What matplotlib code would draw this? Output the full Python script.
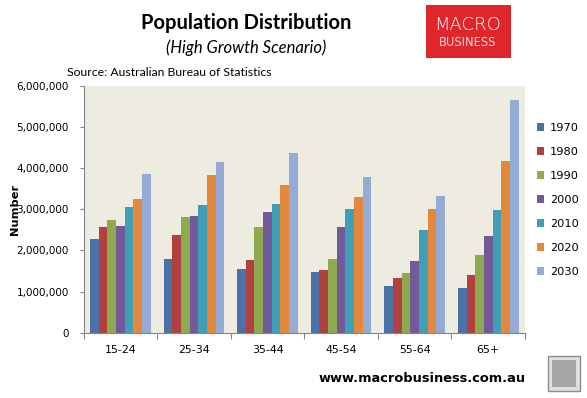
import numpy as np
import matplotlib
matplotlib.use('Agg')
import matplotlib.pyplot as plt
from matplotlib.patches import Rectangle
from matplotlib.ticker import FuncFormatter

# data (people)
age_groups = ['15-24', '25-34', '35-44', '45-54', '55-64', '65+']
years = ['1970', '1980', '1990', '2000', '2010', '2020', '2030']
pop_1970 = [2270000, 1790000, 1540000, 1470000, 1130000, 1080000]
pop_1980 = [2570000, 2370000, 1760000, 1520000, 1320000, 1400000]
pop_1990 = [2740000, 2810000, 2560000, 1790000, 1440000, 1880000]
pop_2000 = [2590000, 2830000, 2930000, 2560000, 1740000, 2350000]
pop_2010 = [3050000, 3100000, 3120000, 3000000, 2490000, 2980000]
pop_2020 = [3250000, 3830000, 3590000, 3300000, 3000000, 4170000]
pop_2030 = [3850000, 4150000, 4370000, 3780000, 3320000, 5660000]
series = [pop_1970, pop_1980, pop_1990, pop_2000, pop_2010, pop_2020, pop_2030]

colors = ['#4a72a8', '#b0413e', '#8daa4e', '#73599a', '#3f9fb7', '#e4883d', '#94abd6']

W, H = 587, 398
fig = plt.figure(figsize=(W/100, H/100), dpi=100)
fig.patch.set_facecolor('white')

ax = fig.add_axes([83.5/W, 1 - 332.7/H, 441.5/W, 246.7/H])
ax.set_facecolor('#eeece1')

n = len(years)
bw = 1.0 / (n + 1.5)
x = np.arange(len(age_groups))
for i, (yr, vals) in enumerate(zip(years, series)):
    ax.bar(x - (n - 1) / 2 * bw + i * bw, vals, width=bw, color=colors[i],
           label=yr, linewidth=0)

ax.set_xlim(-0.5, len(age_groups) - 0.5)
ax.set_ylim(0, 6000000)
ax.set_yticks(np.arange(0, 6000001, 1000000))
ax.yaxis.set_major_formatter(FuncFormatter(lambda v, p: f'{int(v):,}'))
ax.set_xticks(np.arange(-0.5, len(age_groups), 1.0))
ax.set_xticklabels([])
ax.set_xticks(x, minor=True)
ax.set_xticklabels(age_groups, minor=True)
ax.tick_params(axis='x', which='minor', length=0, pad=9, labelsize=7.9)
ax.tick_params(axis='x', which='major', length=4, color='#868686')
ax.tick_params(axis='y', length=3, color='#868686', labelsize=7.5, pad=7.5)
for s in ['top', 'right']:
    ax.spines[s].set_visible(False)
for s in ['left', 'bottom']:
    ax.spines[s].set_color('#868686')

ax.set_ylabel('Number', fontsize=8.2, fontweight='bold')
ax.yaxis.set_label_coords((20 - 83.5) / 441.5, 0.5)

leg = ax.legend(loc='upper left', bbox_to_anchor=(537/W, 1 - 123/H),
                bbox_transform=fig.transFigure, frameon=False, fontsize=8.2,
                handlelength=0.65, handleheight=0.65, handletextpad=0.5,
                labelspacing=1.23, borderpad=0, borderaxespad=0)

# titles
fig.text(246/W, 1 - 23/H, 'Population Distribution', ha='center', va='center',
         fontsize=14.5, fontweight='bold', family='Lato')
fig.text(246/W, 1 - 48/H, '(High Growth Scenario)', ha='center', va='center',
         fontsize=12, style='italic', family='Lato')
fig.text(67/W, 1 - 73/H, 'Source: Australian Bureau of Statistics', ha='left',
         va='center', fontsize=8.8, family='Lato')

# logo box
fig.patches.append(Rectangle((426/W, 1 - 58/H), 85/W, 53/H, transform=fig.transFigure,
                             facecolor='#e0262b', edgecolor='none'))
fig.text(468/W, 1 - 25/H, 'MACRO', ha='center', va='center', color='white',
         fontsize=13, family='DejaVu Sans', fontweight='light')
fig.text(468/W, 1 - 42/H, 'BUSINESS', ha='center', va='center', color='#f6d6d6',
         fontsize=8.3, family='DejaVu Sans')

# footer
fig.text(422/W, 1 - 379/H, 'www.macrobusiness.com.au', ha='center', va='center',
         fontsize=9.4, fontweight='bold')
fig.patches.append(Rectangle((548/W, 1 - 391/H), 32/W, 35/H, transform=fig.transFigure,
                             facecolor='#e0e0e0', edgecolor='#8c8c8c', linewidth=1))
fig.patches.append(Rectangle((552/W, 1 - 387/H), 24/W, 27/H, transform=fig.transFigure,
                             facecolor='#a6a6a6', edgecolor='none'))

fig.savefig('out.png', dpi=100)
